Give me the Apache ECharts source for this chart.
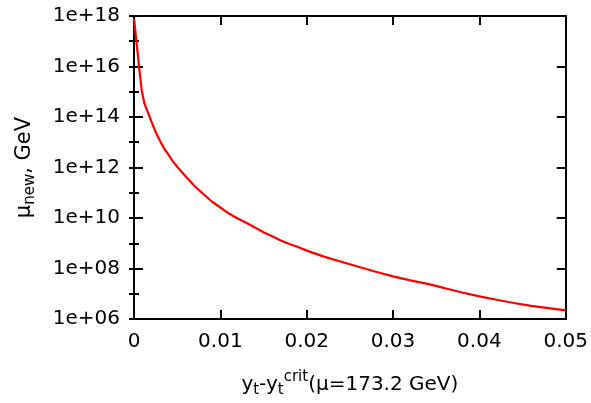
<!DOCTYPE html>
<html>
<head>
<meta charset="utf-8">
<script src="https://cdn.jsdelivr.net/npm/echarts@6/dist/echarts.min.js"></script>
<style>
html,body{margin:0;padding:0;background:#fff;}
#c{width:591px;height:403px;}
</style>
</head>
<body>
<div id="c"></div>
<script>
// x values: y_t - y_t^crit
var xValues = [0, 0.0003, 0.0006, 0.0009, 0.0012, 0.0015, 0.002, 0.0025, 0.003, 0.0035, 0.004, 0.0045, 0.005,
  0.006, 0.007, 0.008, 0.009, 0.010, 0.011, 0.012, 0.013, 0.014, 0.015, 0.016, 0.017, 0.018, 0.019, 0.020,
  0.022, 0.024, 0.026, 0.028, 0.030, 0.032, 0.034, 0.036, 0.038, 0.040, 0.042, 0.044, 0.046, 0.048, 0.050];
// mu_new in GeV
var muNew = [7.9e17, 8.7e16, 8.9e15, 1.1e15, 3.5e14, 1.9e14, 6.9e13, 2.6e13, 1.15e13, 5.6e12, 3.2e12, 1.74e12, 1.07e12,
  4.4e11, 1.86e11, 9.1e10, 4.5e10, 2.6e10, 1.5e10, 9.5e9, 6.5e9, 4.2e9, 2.75e9, 1.9e9, 1.29e9, 9.3e8, 7.1e8, 5.1e8,
  2.95e8, 1.86e8, 1.17e8, 7.4e7, 4.9e7, 3.4e7, 2.45e7, 1.66e7, 1.12e7, 7.9e6, 5.8e6, 4.3e6, 3.3e6, 2.7e6, 2.2e6];
var xTicks = [0, 0.01, 0.02, 0.03, 0.04, 0.05];
var yTickLabels = ['1e+06', '1e+08', '1e+10', '1e+12', '1e+14', '1e+16', '1e+18'];

var FONT = 'DejaVu Sans';
var chart = echarts.init(document.getElementById('c'), null, {renderer: 'canvas'});
var data = xValues.map(function (x, i) { return [x, muNew[i]]; });
var lineStyleAxis = {color: '#000', width: 2};

function yLab(v) {
  var e = Math.round(Math.log10(v));
  var s = '1e+' + (e < 10 ? '0' + e : e);
  return yTickLabels.indexOf(s) >= 0 ? s : '';
}
function xLab(v) {
  var r = Math.round(v * 100) / 100;
  for (var i = 0; i < xTicks.length; i++) {
    if (Math.abs(xTicks[i] - r) < 1e-9) return r === 0 ? '0' : r.toFixed(2);
  }
  return '';
}

var option = {
  animation: false,
  backgroundColor: '#fff',
  grid: {left: 134, top: 16, width: 432, height: 310, containLabel: false},
  xAxis: [{
    type: 'value', min: 0, max: 0.05, interval: 0.01, position: 'bottom',
    axisLine: {show: true, onZero: false, lineStyle: lineStyleAxis},
    axisTick: {show: true, inside: true, length: 9, lineStyle: {color: '#000', width: 2}},
    splitLine: {show: false},
    axisLabel: {fontFamily: FONT, fontSize: 20, color: '#000', margin: 13, formatter: xLab},
    name: '{n|y}{s|t}{n|-y}{s|t}{p|crit}{n|(μ=173.2 GeV)}',
    nameLocation: 'middle', nameGap: 47,
    nameTextStyle: {
      rich: {
        n: {fontFamily: FONT, fontSize: 20, color: '#000', lineHeight: 32, verticalAlign: 'bottom', padding: [0, 0, 3, 0]},
        s: {fontFamily: FONT, fontSize: 15, color: '#000', lineHeight: 32, verticalAlign: 'bottom', padding: [0, 0, 0, 0]},
        p: {fontFamily: FONT, fontSize: 15, color: '#000', lineHeight: 32, verticalAlign: 'bottom', padding: [0, 0, 13, 0]}
      }
    }
  }, {
    type: 'value', min: 0, max: 0.05, interval: 0.01, position: 'top',
    axisLine: {show: true, onZero: false, lineStyle: lineStyleAxis},
    axisTick: {show: true, inside: true, length: 9, lineStyle: {color: '#000', width: 2}},
    splitLine: {show: false}, axisLabel: {show: false}
  }],
  yAxis: [{
    type: 'log', logBase: 100, min: 1e6, max: 1e18, position: 'left',
    axisLine: {show: true, onZero: false, lineStyle: lineStyleAxis},
    axisTick: {show: true, inside: true, length: 9, lineStyle: {color: '#000', width: 2}},
    splitLine: {show: false},
    axisLabel: {fontFamily: FONT, fontSize: 20, color: '#000', margin: 14, formatter: yLab},
    name: '{n|μ}{s|new}{n|, GeV}',
    nameLocation: 'middle', nameRotate: 90, nameGap: 96,
    nameTextStyle: {
      rich: {
        n: {fontFamily: FONT, fontSize: 21, color: '#000', lineHeight: 32, verticalAlign: 'bottom', padding: [0, 0, 3, 0]},
        s: {fontFamily: FONT, fontSize: 15, color: '#000', lineHeight: 32, verticalAlign: 'bottom', padding: [0, 0, 0, 0]}
      }
    }
  }, {
    type: 'log', logBase: 10, min: 1e6, max: 1e18, interval: 1, splitNumber: 12, position: 'left',
    axisLine: {show: false},
    axisTick: {show: true, inside: true, length: 5, lineStyle: {color: '#000', width: 2}},
    splitLine: {show: false}, axisLabel: {show: false}
  }, {
    type: 'log', logBase: 100, min: 1e6, max: 1e18, position: 'right',
    axisLine: {show: true, onZero: false, lineStyle: lineStyleAxis},
    axisTick: {show: true, inside: true, length: 9, lineStyle: {color: '#000', width: 2}},
    splitLine: {show: false}, axisLabel: {show: false}
  }, {
    type: 'log', logBase: 10, min: 1e6, max: 1e18, interval: 1, splitNumber: 12, position: 'right',
    axisLine: {show: false},
    axisTick: {show: true, inside: true, length: 5, lineStyle: {color: '#000', width: 2}},
    splitLine: {show: false}, axisLabel: {show: false}
  }],
  series: [{
    type: 'line', xAxisIndex: 0, yAxisIndex: 0, data: data,
    showSymbol: false, symbol: 'none', smooth: false,
    lineStyle: {color: '#ff0000', width: 2.2}
  }]
};
chart.setOption(option);
</script>
</body>
</html>
